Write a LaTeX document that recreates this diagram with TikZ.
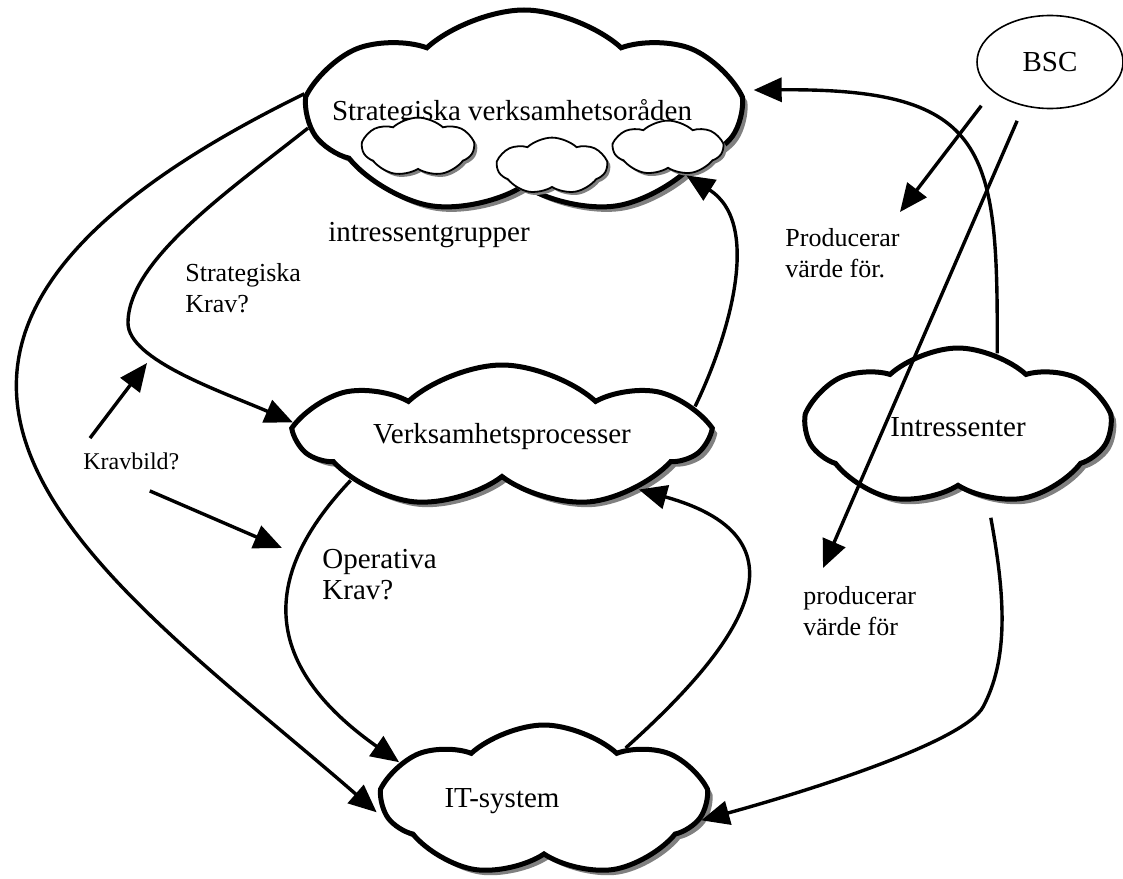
\documentclass[tikz,border=0pt]{standalone}
\usepackage{fontspec}
\setmainfont{Liberation Serif}
\usetikzlibrary{arrows.meta,shapes.symbols,shapes.geometric,shadows}
\newcommand\nowidth[1]{\makebox[0pt]{#1}}

\begin{document}
\begin{tikzpicture}[x=0.5pt, y=-0.5pt,
  cl/.style={cloud, cloud puffs=7, cloud puff arc=85, cloud ignores aspect, draw, line width=2.5pt, fill=white, inner sep=0pt, font=\fontsize{14.5}{17}\selectfont, drop shadow={shadow xshift=2.5pt, shadow yshift=-2.5pt, fill=black!50, opacity=1}},
  cls/.style={cloud, cloud puffs=7, cloud puff arc=85, cloud ignores aspect, draw, line width=0.9pt, fill=white, inner sep=0pt, drop shadow={shadow xshift=1.5pt, shadow yshift=-1.5pt, fill=black!50, opacity=1}},
  arr/.style={-{Triangle[length=14pt,width=12pt]}, line width=1.7pt},
  lbl/.style={anchor=west, inner sep=0pt, align=left, font=\fontsize{13}{15.5}\selectfont}
]
\useasboundingbox[fill=white] (0,0) rectangle (1123,878);

% clouds
\node[cl, minimum width=214pt, minimum height=103pt] (strat) at (524,113) {\nowidth{Strategiska verksamhetsoråden\hspace*{12pt}}};
\node[cls, minimum width=55.5pt, minimum height=29.4pt] (sc1) at (418,147) {};
\node[cls, minimum width=54.5pt, minimum height=28.4pt] (sc2) at (552,166) {};
\node[cls, minimum width=54.5pt, minimum height=27.4pt] (sc3) at (668,148) {};
\node[cl, minimum width=201pt, minimum height=72pt] (vp) at (502,437) {\nowidth{Verksamhetsprocesser}};
\node[cl, minimum width=160pt, minimum height=76pt] (it) at (544,801) {\nowidth{IT-system\hspace*{42pt}}};
\node[cl, minimum width=151pt, minimum height=79pt] (intr) at (958,427) {\nowidth{Intressenter}};
\node[ellipse, draw, line width=0.8pt, minimum width=73pt, minimum height=46.5pt, font=\fontsize{14.5}{17}\selectfont] (bsc) at (1050,62) {BSC};

% labels
\node[lbl, font=\fontsize{14.5}{17}\selectfont] (ig) at (328,235) {intressentgrupper};
\node[lbl] (sk) at (185,288) {Strategiska\\Krav?};
\node[lbl, font=\fontsize{12}{14}\selectfont] (kb) at (83,461) {Kravbild?};
\node[lbl, font=\fontsize{14.5}{15.5}\selectfont] (ok) at (322,575) {Operativa\\Krav?};
\node[lbl] (pv1) at (785,253) {Producerar\\värde för.};
\node[lbl] (pv2) at (803,611) {producerar\\värde för};

\coordinate (kbup) at (147,363);
\coordinate (kbdn) at (282,548);
\coordinate (bscA) at (900,212);
\coordinate (bscB) at (823,568);

% connectors
\draw[arr, shorten >=8pt] (strat.175) .. controls (-240,360) and (110,580) .. (it.188);
\draw[arr] (strat.184) .. controls (230,190) and (128,260) .. (128,323) .. controls (128,360) and (223,392) .. (vp.176);
\draw[arr] ([xshift=3.5pt,yshift=7pt]kb.north west) -- (kbup);
\draw[arr] ([xshift=-15pt,yshift=-10.5pt]kb.south east) -- (kbdn);
\draw[arr] (vp.196) .. controls (280,555) and (240,650) .. (it.165);
\draw[arr] (vp.9) .. controls (725,345) and (765,225) .. (strat.339);
\draw[arr] (it.33) .. controls (735,650) and (820,540) .. (vp.339);
\draw[arr, shorten >=6pt] (intr.62) .. controls (998,150) and (990,88) .. (strat.6);
\draw[arr, shorten <=9pt] (bsc.207) -- (bscA);
\draw[arr, shorten <=8pt] (bsc.239) -- (bscB);
\draw[arr, shorten <=9pt] (intr.292) .. controls (1006,600) and (1008,660) .. (983,707) .. controls (964,742) and (808,791) .. (it.353);
\end{tikzpicture}
\end{document}
